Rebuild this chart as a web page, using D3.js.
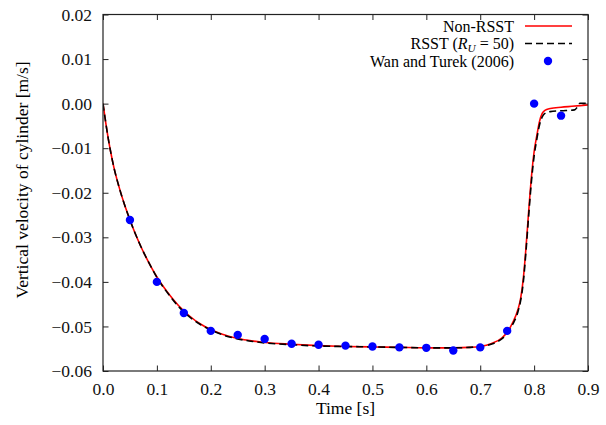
<!DOCTYPE html>
<html>
<head>
<meta charset="utf-8">
<script src="https://cdn.jsdelivr.net/npm/d3@7"></script>
<style>
  body { margin: 0; background: #fff; }
</style>
</head>
<body>
<div id="chart"></div>
<script>
// Non-RSST curve
const nonRsstT = [0, 0.005, 0.01, 0.015, 0.02, 0.03, 0.04, 0.05, 0.06, 0.07, 0.08, 0.09, 0.10, 0.12, 0.14, 0.16, 0.18, 0.20, 0.22, 0.25, 0.28, 0.30, 0.35, 0.40, 0.45, 0.50, 0.55, 0.60, 0.65, 0.68, 0.70, 0.72, 0.74, 0.75, 0.76, 0.77, 0.775, 0.78, 0.785, 0.79, 0.795, 0.80, 0.805, 0.81, 0.815, 0.82, 0.83, 0.85, 0.87, 0.90];
const nonRsstV = [0, -0.0042, -0.0080, -0.0113, -0.0142, -0.0188, -0.0227, -0.0261, -0.0292, -0.0320, -0.0345, -0.0368, -0.0389, -0.0424, -0.0453, -0.0476, -0.0494, -0.0507, -0.0517, -0.0527, -0.0533, -0.0536, -0.0540, -0.0543, -0.0545, -0.0546, -0.0547, -0.0548, -0.0548, -0.0547, -0.0545, -0.0539, -0.0526, -0.0513, -0.0492, -0.0462, -0.0437, -0.0392, -0.0322, -0.0240, -0.0165, -0.0108, -0.0072, -0.0040, -0.0022, -0.0015, -0.0011, -0.0008, -0.0006, -0.0003];

// RSST (R_U = 50) curve
const rsstT = [0, 0.005, 0.01, 0.015, 0.02, 0.03, 0.04, 0.05, 0.06, 0.07, 0.08, 0.09, 0.10, 0.12, 0.14, 0.16, 0.18, 0.20, 0.22, 0.25, 0.28, 0.30, 0.35, 0.40, 0.45, 0.50, 0.55, 0.60, 0.65, 0.68, 0.70, 0.72, 0.74, 0.75, 0.76, 0.77, 0.775, 0.78, 0.785, 0.79, 0.795, 0.80, 0.805, 0.81, 0.815, 0.82, 0.83, 0.85, 0.875, 0.88, 0.885, 0.90];
const rsstV = [0, -0.0042, -0.0080, -0.0113, -0.0142, -0.0188, -0.0227, -0.0261, -0.0292, -0.0320, -0.0345, -0.0368, -0.0390, -0.0425, -0.0455, -0.0478, -0.0495, -0.0508, -0.0518, -0.0528, -0.0534, -0.0537, -0.0541, -0.0544, -0.0545, -0.0546, -0.0547, -0.0548, -0.0548, -0.0547, -0.0545, -0.0540, -0.0528, -0.0516, -0.0496, -0.0467, -0.0442, -0.0400, -0.0330, -0.0250, -0.0175, -0.0118, -0.0080, -0.0048, -0.0030, -0.0022, -0.0018, -0.0016, -0.0014, -0.0008, 0.0001, 0.0001];

// Wan and Turek (2006)
const wanT = [0.05, 0.10, 0.15, 0.20, 0.25, 0.30, 0.35, 0.40, 0.45, 0.50, 0.55, 0.60, 0.65, 0.70, 0.75, 0.80, 0.85];
const wanV = [-0.0261, -0.0400, -0.0470, -0.0510, -0.0519, -0.0528, -0.0539, -0.0541, -0.0543, -0.0545, -0.0547, -0.0548, -0.0554, -0.0547, -0.0510, 0.0000, -0.0027];

const xTicks = [0, 0.1, 0.2, 0.3, 0.4, 0.5, 0.6, 0.7, 0.8, 0.9];
const yTicks = [0.02, 0.01, 0, -0.01, -0.02, -0.03, -0.04, -0.05, -0.06];

const width = 606, height = 425;
const margin = { top: 14.5, right: 18, bottom: 54, left: 103 };
const serif = '"Liberation Serif"';

const svg = d3.select("#chart").append("svg")
    .attr("width", width)
    .attr("height", height);

const x = d3.scaleLinear().domain([0, 0.9]).range([margin.left, width - margin.right]);
const y = d3.scaleLinear().domain([-0.06, 0.02]).range([height - margin.bottom, margin.top]);

const fs = 17.5;     // подписи осей
const legendFs = 16; // легенда
const tickLen = 5.5;

// оси: тики внутрь, дублируются сверху и справа
const axisStyle = g => {
    g.select(".domain").remove();
    g.selectAll(".tick line").attr("stroke", "#222");
    g.selectAll(".tick text")
        .style("font-family", serif)
        .style("font-size", fs + "px")
        .attr("fill", "#111");
};

svg.append("g")
    .attr("transform", `translate(0,${y(-0.06)})`)
    .call(d3.axisBottom(x).tickValues(xTicks).tickFormat(d3.format(".1f")).tickSizeInner(-tickLen).tickSizeOuter(0).tickPadding(11.5))
    .call(axisStyle);

svg.append("g")
    .attr("transform", `translate(0,${y(0.02)})`)
    .call(d3.axisTop(x).tickValues(xTicks).tickFormat("").tickSizeInner(-tickLen).tickSizeOuter(0))
    .call(axisStyle);

svg.append("g")
    .attr("transform", `translate(${x(0)},0)`)
    .call(d3.axisLeft(y).tickValues(yTicks).tickFormat(d3.format(".2f")).tickSizeInner(-tickLen).tickSizeOuter(0).tickPadding(11))
    .call(axisStyle);

svg.append("g")
    .attr("transform", `translate(${x(0.9)},0)`)
    .call(d3.axisRight(y).tickValues(yTicks).tickFormat("").tickSizeInner(-tickLen).tickSizeOuter(0))
    .call(axisStyle);

svg.append("clipPath").attr("id", "clip")
  .append("rect")
    .attr("x", x(0)).attr("y", y(0.02))
    .attr("width", x(0.9) - x(0)).attr("height", y(-0.06) - y(0.02));

const line = d3.line()
    .x(d => x(d[0]))
    .y(d => y(d[1]))
    .curve(d3.curveMonotoneX);

const plot = svg.append("g").attr("clip-path", "url(#clip)");

plot.append("path")
    .datum(nonRsstT.map((t, i) => [t, nonRsstV[i]]))
    .attr("fill", "none")
    .attr("stroke", "#ff0000")
    .attr("stroke-width", 1.6)
    .attr("d", line);

plot.append("path")
    .datum(rsstT.map((t, i) => [t, rsstV[i]]))
    .attr("fill", "none")
    .attr("stroke", "#000")
    .attr("stroke-width", 1.6)
    .attr("stroke-dasharray", "7,4")
    .attr("d", line);

plot.selectAll("circle.wan")
    .data(wanT.map((t, i) => [t, wanV[i]]))
    .enter().append("circle")
    .attr("class", "wan")
    .attr("cx", d => x(d[0]))
    .attr("cy", d => y(d[1]))
    .attr("r", 4.2)
    .attr("fill", "#0000ff");

// рамка
svg.append("rect")
    .attr("x", x(0)).attr("y", y(0.02))
    .attr("width", x(0.9) - x(0)).attr("height", y(-0.06) - y(0.02))
    .attr("fill", "none")
    .attr("stroke", "#222")
    .attr("stroke-width", 1.2);

// подписи осей
svg.append("text")
    .attr("x", (x(0) + x(0.9)) / 2)
    .attr("y", 414)
    .attr("text-anchor", "middle")
    .style("font-family", serif)
    .style("font-size", fs + "px")
    .text("Time [s]");

svg.append("text")
    .attr("transform", "translate(22,180) rotate(-90)")
    .attr("text-anchor", "middle")
    .attr("dy", "0.35em")
    .style("font-family", serif)
    .style("font-size", fs + "px")
    .text("Vertical velocity of cylinder [m/s]");

// легенда
const legend = svg.append("g");
const lx = 514, lx1 = 525, lx2 = 572;

const legendText = (yy) => legend.append("text")
    .attr("x", lx).attr("y", yy).attr("dy", "0.35em")
    .attr("text-anchor", "end")
    .style("font-family", serif)
    .style("font-size", legendFs + "px");

legendText(26).text("Non-RSST");
legend.append("line").attr("x1", lx1).attr("x2", lx2).attr("y1", 26).attr("y2", 26)
    .attr("stroke", "#ff0000").attr("stroke-width", 1.6);

const rsstLabel = legendText(43.5);
rsstLabel.append("tspan").text("RSST (");
rsstLabel.append("tspan").style("font-style", "italic").text("R");
rsstLabel.append("tspan").style("font-style", "italic").style("font-size", (legendFs * 0.7) + "px").attr("dy", 3).text("U");
rsstLabel.append("tspan").attr("dy", -3).text(" = 50)");
legend.append("line").attr("x1", lx1).attr("x2", lx2).attr("y1", 43.5).attr("y2", 43.5)
    .attr("stroke", "#000").attr("stroke-width", 1.6).attr("stroke-dasharray", "7,4");

legendText(61).text("Wan and Turek (2006)");
legend.append("circle").attr("cx", 548).attr("cy", 61).attr("r", 4.2).attr("fill", "#0000ff");
</script>
</body>
</html>
